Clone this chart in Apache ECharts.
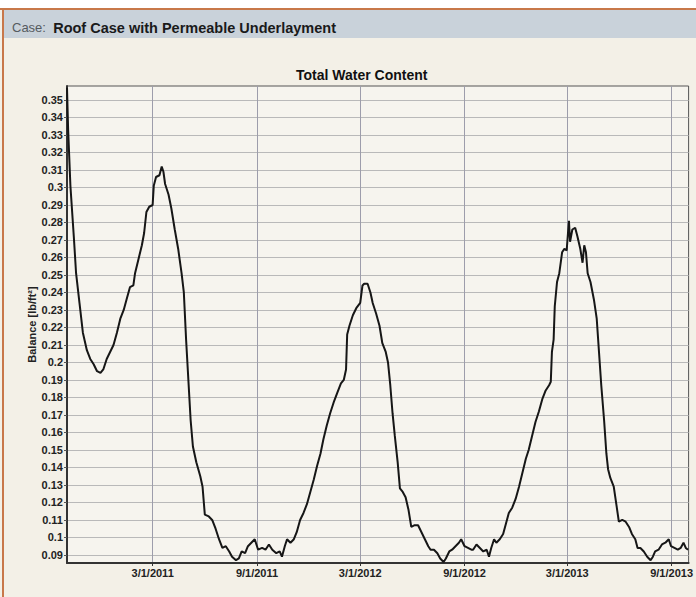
<!DOCTYPE html>
<html>
<head>
<meta charset="utf-8">
<script src="https://cdn.jsdelivr.net/npm/echarts@6/dist/echarts.min.js"></script>
<style>
  html, body { margin: 0; padding: 0; background: #f3f0e7; }
  #chart { width: 696px; height: 597px; }
</style>
</head>
<body>
<div id="chart"></div>
<script>
const caseName = "Roof Case with Permeable Underlayment";
const chartTitle = "Total Water Content";
const yName = "Balance [lb/ft²]";

const xRange = ["2010-10-01", "2013-10-01"];
const xTicks = ["2011-03-01", "2011-09-01", "2012-03-01", "2012-09-01", "2013-03-01", "2013-09-01"];
const yTicks = [0.09, 0.1, 0.11, 0.12, 0.13, 0.14, 0.15, 0.16, 0.17, 0.18, 0.19, 0.2, 0.21, 0.22,
  0.23, 0.24, 0.25, 0.26, 0.27, 0.28, 0.29, 0.3, 0.31, 0.32, 0.33, 0.34, 0.35];

const dates = [
  "2010-10-01", "2010-10-03", "2010-10-07", "2010-10-13", "2010-10-17", "2010-10-23", "2010-10-29",
  "2010-11-05", "2010-11-11", "2010-11-17", "2010-11-23", "2010-11-29", "2010-12-04", "2010-12-10",
  "2010-12-16", "2010-12-22", "2010-12-28", "2011-01-03", "2011-01-09", "2011-01-14", "2011-01-20",
  "2011-01-26", "2011-01-29", "2011-02-04", "2011-02-10", "2011-02-14", "2011-02-18", "2011-02-23",
  "2011-03-01", "2011-03-03", "2011-03-07", "2011-03-13", "2011-03-17", "2011-03-20", "2011-03-23",
  "2011-03-29", "2011-04-03", "2011-04-09", "2011-04-15", "2011-04-21", "2011-04-25", "2011-04-29",
  "2011-05-03", "2011-05-07", "2011-05-11", "2011-05-17", "2011-05-24", "2011-05-28", "2011-06-01",
  "2011-06-08", "2011-06-14", "2011-06-20", "2011-06-26", "2011-07-02", "2011-07-08", "2011-07-14",
  "2011-07-19", "2011-07-26", "2011-07-31", "2011-08-05", "2011-08-11", "2011-08-16", "2011-08-22",
  "2011-08-28", "2011-09-03", "2011-09-10", "2011-09-16", "2011-09-22", "2011-09-28", "2011-10-05",
  "2011-10-11", "2011-10-15", "2011-10-20", "2011-10-24", "2011-10-30", "2011-11-05", "2011-11-10",
  "2011-11-16", "2011-11-22", "2011-11-28", "2011-12-04", "2011-12-10", "2011-12-16", "2011-12-22",
  "2011-12-27", "2012-01-02", "2012-01-08", "2012-01-14", "2012-01-21", "2012-01-27", "2012-02-01",
  "2012-02-05", "2012-02-07", "2012-02-11", "2012-02-17", "2012-02-23", "2012-03-01", "2012-03-05",
  "2012-03-08", "2012-03-14", "2012-03-19", "2012-03-23", "2012-03-29", "2012-04-04", "2012-04-09",
  "2012-04-15", "2012-04-19", "2012-04-23", "2012-04-27", "2012-05-01", "2012-05-06", "2012-05-10",
  "2012-05-15", "2012-05-20", "2012-05-25", "2012-05-30", "2012-06-05", "2012-06-11", "2012-06-17",
  "2012-06-23", "2012-06-29", "2012-07-03", "2012-07-09", "2012-07-15", "2012-07-20", "2012-07-26",
  "2012-07-30", "2012-08-05", "2012-08-10", "2012-08-16", "2012-08-22", "2012-08-26", "2012-09-01",
  "2012-09-07", "2012-09-13", "2012-09-16", "2012-09-22", "2012-09-28", "2012-10-04", "2012-10-10",
  "2012-10-14", "2012-10-18", "2012-10-23", "2012-10-27", "2012-11-02", "2012-11-08", "2012-11-13",
  "2012-11-18", "2012-11-24", "2012-11-30", "2012-12-06", "2012-12-12", "2012-12-18", "2012-12-23",
  "2012-12-29", "2013-01-04", "2013-01-10", "2013-01-16", "2013-01-22", "2013-01-28", "2013-01-31",
  "2013-02-02", "2013-02-05", "2013-02-07", "2013-02-11", "2013-02-15", "2013-02-20", "2013-02-24",
  "2013-02-28", "2013-03-04", "2013-03-06", "2013-03-10", "2013-03-15", "2013-03-19", "2013-03-24",
  "2013-03-28", "2013-03-31", "2013-04-03", "2013-04-06", "2013-04-11", "2013-04-17", "2013-04-22",
  "2013-04-26", "2013-04-30", "2013-05-05", "2013-05-09", "2013-05-12", "2013-05-16", "2013-05-22",
  "2013-05-27", "2013-05-31", "2013-06-06", "2013-06-12", "2013-06-18", "2013-06-23", "2013-06-29",
  "2013-07-03", "2013-07-08", "2013-07-14", "2013-07-20", "2013-07-26", "2013-07-30", "2013-08-03",
  "2013-08-09", "2013-08-15", "2013-08-21", "2013-08-27", "2013-08-31", "2013-09-06", "2013-09-12",
  "2013-09-17", "2013-09-22", "2013-09-26", "2013-09-30"
];

const balance = [
  0.357, 0.333, 0.301, 0.272, 0.251, 0.234, 0.217,
  0.207, 0.202, 0.199, 0.195, 0.194, 0.196, 0.202,
  0.206, 0.210, 0.217, 0.225, 0.230, 0.236, 0.243,
  0.244, 0.251, 0.259, 0.267, 0.274, 0.286, 0.289,
  0.290, 0.301, 0.306, 0.307, 0.312, 0.309, 0.302,
  0.296, 0.288, 0.276, 0.265, 0.251, 0.240, 0.213,
  0.190, 0.167, 0.152, 0.143, 0.135, 0.129, 0.113,
  0.112, 0.110, 0.105, 0.099, 0.094, 0.095, 0.092,
  0.089, 0.087, 0.088, 0.092, 0.091, 0.095, 0.097,
  0.099, 0.093, 0.094, 0.093, 0.096, 0.093, 0.091,
  0.092, 0.089, 0.095, 0.099, 0.097, 0.099, 0.103,
  0.110, 0.114, 0.119, 0.126, 0.133, 0.141, 0.148,
  0.156, 0.164, 0.171, 0.177, 0.183, 0.188, 0.190,
  0.196, 0.216, 0.221, 0.227, 0.231, 0.234, 0.244,
  0.245, 0.245, 0.240, 0.234, 0.228, 0.221, 0.211,
  0.206, 0.200, 0.187, 0.171, 0.158, 0.143, 0.128,
  0.126, 0.123, 0.116, 0.106, 0.107, 0.107, 0.103,
  0.099, 0.095, 0.093, 0.093, 0.091, 0.088, 0.086,
  0.088, 0.092, 0.093, 0.095, 0.097, 0.099, 0.095,
  0.094, 0.093, 0.093, 0.096, 0.094, 0.092, 0.093,
  0.089, 0.094, 0.099, 0.097, 0.099, 0.102, 0.108,
  0.114, 0.117, 0.122, 0.129, 0.137, 0.145, 0.150,
  0.158, 0.166, 0.172, 0.179, 0.184, 0.187, 0.189,
  0.206, 0.213, 0.232, 0.246, 0.251, 0.263, 0.265,
  0.264, 0.281, 0.269, 0.276, 0.277, 0.272, 0.265,
  0.257, 0.267, 0.263, 0.251, 0.246, 0.236, 0.225,
  0.206, 0.187, 0.167, 0.148, 0.139, 0.134, 0.129,
  0.118, 0.109, 0.110, 0.109, 0.106, 0.102, 0.099,
  0.094, 0.094, 0.092, 0.089, 0.087, 0.089, 0.092,
  0.093, 0.096, 0.097, 0.099, 0.095, 0.094, 0.093,
  0.094, 0.097, 0.094, 0.093
];

const font = "'Liberation Sans', Arial, sans-serif";
const toTime = (d) => echarts.time.parse(d).getTime();
const chart = echarts.init(document.getElementById("chart"), null, { renderer: "svg" });

function fmtDate(v) {
  const d = new Date(v);
  return (d.getMonth() + 1) + "/" + d.getDate() + "/" + d.getFullYear();
}

chart.setOption({
  backgroundColor: "#f3f0e7",
  animation: false,
  graphic: [
    { type: "rect", shape: { x: 0, y: 0, width: 696, height: 8 }, style: { fill: "#ffffff" }, silent: true },
    { type: "rect", shape: { x: 4, y: 10, width: 692, height: 28 }, style: { fill: "#c9d2da" }, silent: true },
    { type: "rect", shape: { x: 0, y: 8, width: 696, height: 2 }, style: { fill: "#c8784a" }, silent: true },
    { type: "rect", shape: { x: 2, y: 8, width: 2, height: 589 }, style: { fill: "#c8784a" }, silent: true }
  ],
  title: [
    {
      text: "Case:  {b|" + caseName + "}",
      left: 7,
      top: 15,
      textStyle: {
        fontFamily: font, fontSize: 13, fontWeight: "normal", color: "#555b60",
        rich: { b: { fontFamily: font, fontSize: 14.5, fontWeight: "bold", color: "#1a1a1a" } }
      }
    },
    {
      text: chartTitle,
      left: 291,
      top: 63,
      textStyle: { fontFamily: font, fontSize: 14, fontWeight: "bold", color: "#111" }
    }
  ],
  grid: {
    left: 67, right: 5, top: 86, bottom: 34,
    show: true, backgroundColor: "#f6f4ee", borderColor: "#555", borderWidth: 1
  },
  xAxis: {
    type: "value",
    min: toTime(xRange[0]),
    max: toTime(xRange[1]),
    axisLine: { lineStyle: { color: "#333", width: 2 } },
    axisTick: { show: true, length: 3, lineStyle: { color: "#333" }, customValues: xTicks.map(toTime) },
    axisLabel: {
      customValues: xTicks.map(toTime),
      formatter: (v) => fmtDate(v),
      color: "#222", fontFamily: font, fontSize: 11, fontWeight: "bold", margin: 4
    },
    splitLine: { show: true, lineStyle: { color: "#9d9dab", width: 1 } }
  },
  yAxis: {
    type: "value",
    min: 0.0854,
    max: 0.358,
    name: yName,
    nameLocation: "middle",
    nameGap: 30,
    nameMoveOverlap: false,
    nameTextStyle: { fontFamily: font, fontSize: 11, fontWeight: "bold", color: "#222" },
    axisLine: { show: true, lineStyle: { color: "#333", width: 2 } },
    axisTick: { show: true, length: 3, lineStyle: { color: "#555" }, customValues: yTicks },
    axisLabel: {
      customValues: yTicks,
      formatter: (v) => String(+v.toFixed(2)),
      color: "#222", fontFamily: font, fontSize: 11, fontWeight: "bold", margin: 4
    },
    splitLine: { show: true, lineStyle: { color: "#b9b9b9", width: 1 } }
  },
  series: [
    {
      type: "line",
      data: dates.map((d, i) => [toTime(d), balance[i]]),
      symbol: "none",
      lineStyle: { color: "#161616", width: 2 },
      z: 5
    }
  ]
});
</script>
</body>
</html>
